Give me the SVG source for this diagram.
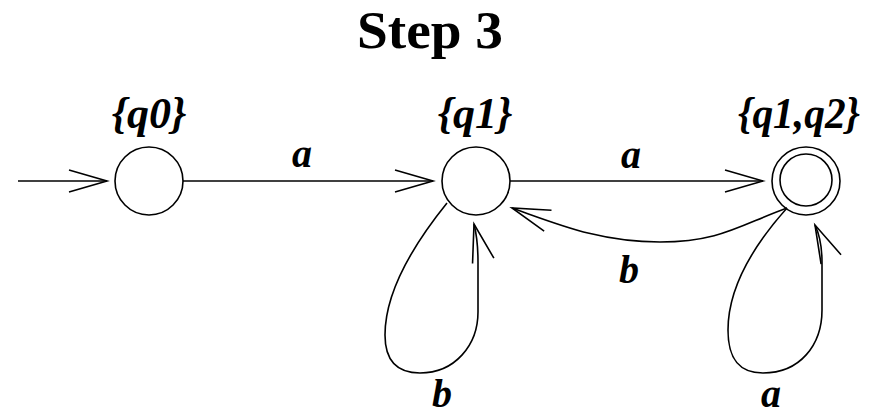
<svg xmlns="http://www.w3.org/2000/svg" width="876" height="416" viewBox="0 0 876 416">
<style>
.st{fill:none;stroke:#000;stroke-width:1.6}
.lbl{font-family:"Liberation Serif","Times New Roman",serif;font-weight:bold;font-style:italic;fill:#000;text-anchor:middle}
.nl{font-size:44px}
.el{font-size:40px}
.title{font-family:"Liberation Serif","Times New Roman",serif;font-weight:bold;font-size:52px;fill:#000;text-anchor:middle}
</style>
<defs>
<marker id="arr" markerUnits="userSpaceOnUse" orient="auto" markerWidth="60" markerHeight="40" refX="0" refY="0" viewBox="-45 -20 50 40" overflow="visible">
<path d="M-38,-11 L0,0 L-38,11" fill="none" stroke="#000" stroke-width="1.6"/>
</marker>
</defs>
<rect width="876" height="416" fill="#fff"/>
<text class="title" x="430" y="48" textLength="146" lengthAdjust="spacingAndGlyphs">Step 3</text>
<g id="q0">
<circle class="st" cx="149" cy="181" r="34"/>
<text class="lbl nl" x="149" y="128">{q0}</text>
</g>
<g id="q1">
<circle class="st" cx="476" cy="181" r="34"/>
<text class="lbl nl" x="475" y="128">{q1}</text>
</g>
<g id="q1q2">
<circle class="st" cx="806" cy="181" r="34"/>
<circle class="st" cx="806" cy="180" r="26"/>
<text class="lbl nl" x="799" y="128" textLength="122" lengthAdjust="spacingAndGlyphs">{q1,q2}</text>
</g>
<g id="connectors">
<path class="st" d="M18,181 L107,181" marker-end="url(#arr)"/>
<path class="st" d="M183,181 L433,181" marker-end="url(#arr)"/>
<text class="lbl el" x="302" y="167">a</text>
<path class="st" d="M510,181 L763,181" marker-end="url(#arr)"/>
<text class="lbl el" x="631" y="168">a</text>
<path class="st" d="M787,208 C740,225 720,242 660,242 C600,242 560,225 512,208" marker-end="url(#arr)"/>
<text class="lbl el" x="629" y="283">b</text>
<path class="st" d="M447,203 C405,255 385,300 385,335 C385,362 398,373 420,373 C455,373 478,345 478,312 L478,262 Q478,240 474,224" marker-end="url(#arr)"/>
<text class="lbl el" x="442" y="407">b</text>
<path class="st" d="M787,208 C745,255 728,295 728,330 C728,360 740,373 763,373 C800,373 822,345 822,310 L822,262 Q822,240 815,225" marker-end="url(#arr)"/>
<text class="lbl el" x="771" y="407">a</text>
</g>
</svg>
